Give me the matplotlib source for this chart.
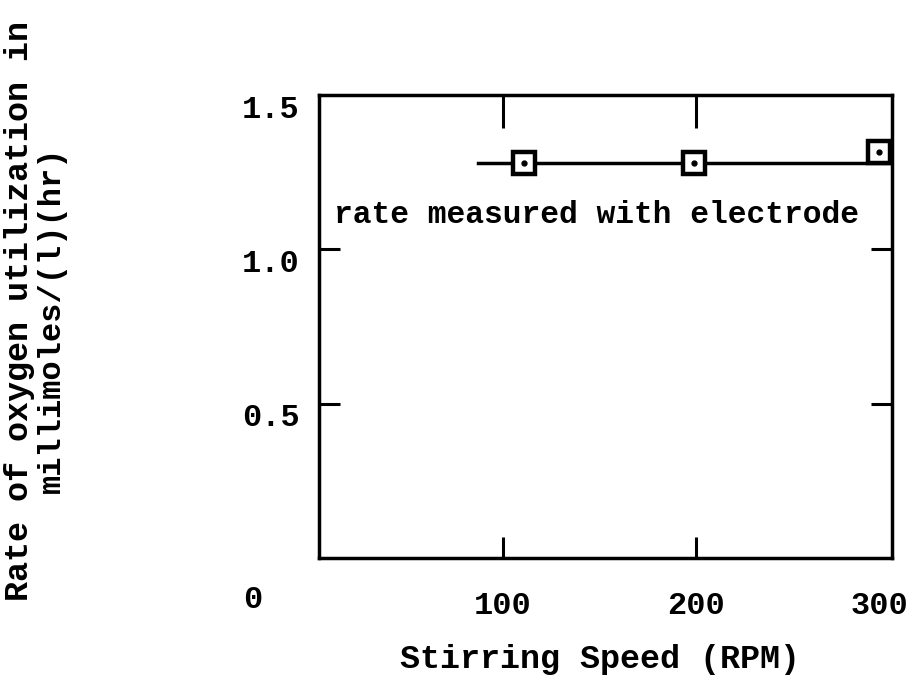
import matplotlib.pyplot as plt
from matplotlib.transforms import ScaledTranslation

# data
speed = [111, 199, 295]          # RPM
rate = [1.28, 1.28, 1.315]        # millimoles/(l)(hr)
fit_x = [87, 301.5]
fit_y = [1.28, 1.28]

xticks = [100, 200, 300]
yticks = [0.5, 1.0, 1.5]

font = ['Liberation Mono', 'DejaVu Sans Mono']
plt.rcParams['font.family'] = font
plt.rcParams['font.weight'] = 'bold'

fig = plt.figure(figsize=(9.1, 6.79), dpi=100)
ax = fig.add_axes([319 / 910, 1 - 558 / 679, (892 - 319) / 910, (558 - 95) / 679])

ax.plot(fit_x, fit_y, color='black', lw=2.5, zorder=2)
ax.plot(speed, rate, ls='none', marker='s', ms=15.5, mfc='white', mec='black', mew=3.2, zorder=3, clip_on=False)
ax.plot(speed, rate, ls='none', marker='o', ms=3.5, color='black', zorder=4, clip_on=False)

ax.set_xlim(4.7, 301.5)
ax.set_ylim(0, 1.5)

for s in ax.spines.values():
    s.set_linewidth(2.5)

ax.set_xticks(xticks)
ax.set_xticklabels([str(t) for t in xticks], fontsize=23)
ax.set_yticks(yticks)
ax.set_yticklabels(['%.1f' % t for t in yticks], fontsize=23)
ax.tick_params(axis='both', direction='in', length=15, width=2.2, top=True, right=True)
ax.tick_params(axis='y', pad=14)
ax.tick_params(axis='x', pad=24)
# the 300 and 1.5 ticks sit on the frame itself
for t in (ax.xaxis.get_major_ticks()[2], ax.yaxis.get_major_ticks()[2]):
    t.tick1line.set_visible(False)
    t.tick2line.set_visible(False)
for t in ax.xaxis.get_major_ticks()[:2]:
    t.tick2line.set_markersize(24)

# typed labels sit a little below their tick marks
down = ScaledTranslation(0, -0.11, fig.dpi_scale_trans)
for lbl in ax.get_yticklabels():
    lbl.set_transform(lbl.get_transform() + down)
lbl300 = ax.get_xticklabels()[2]
lbl300.set_transform(lbl300.get_transform() + ScaledTranslation(-0.1, 0, fig.dpi_scale_trans))

fig.text(253 / 910, 1 - 600 / 679, '0', fontsize=23, ha='center', va='center')

ax.text(0.485, 0.741, 'rate measured with electrode', transform=ax.transAxes,
        fontsize=22.5, ha='center', va='center')

ax.set_xlabel('Stirring Speed (RPM)', fontsize=24, fontweight='bold')
ax.xaxis.set_label_coords(0.490, -0.185)

fig.text(20 / 910, 1 - 311 / 679, 'Rate of oxygen utilization in', rotation=90,
         fontsize=24, ha='center', va='center')
fig.text(52 / 910, 1 - 320 / 679, 'millimoles/(l)(hr)', rotation=90,
         fontsize=23, ha='center', va='center')

plt.savefig('out.png', dpi=100)
